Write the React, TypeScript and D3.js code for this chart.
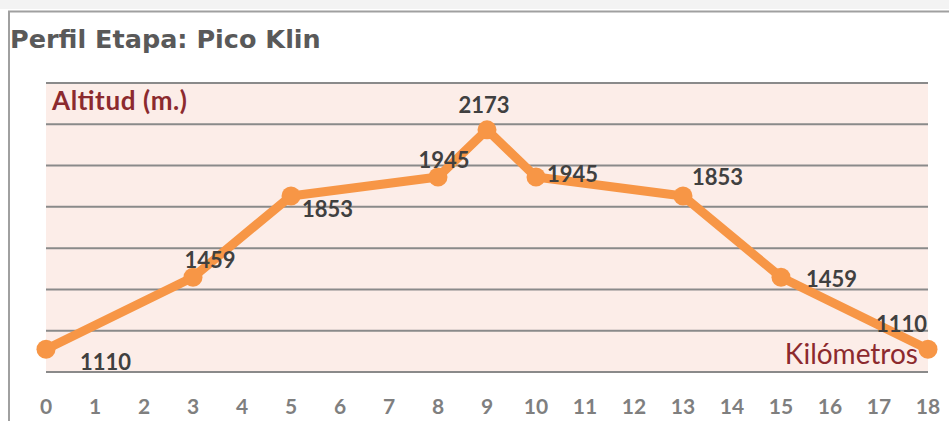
import { useEffect, useRef } from "react";
import * as d3 from "d3";

const kms = [0, 3, 5, 8, 9, 10, 13, 15, 18];
const alts = [1110, 1459, 1853, 1945, 2173, 1945, 1853, 1459, 1110];
// label placement per point: [dx, dy, anchor] relative to the marker
const labelPos: [number, number, string][] = [
  [34, 21, "start"],
  [17, -9, "middle"],
  [11, 21, "start"],
  [6, -9, "middle"],
  [-3, -17, "middle"],
  [11, 5, "start"],
  [9, -11, "start"],
  [25, 10, "start"],
  [-1, -17, "end"],
];
const xTicks = d3.range(0, 19);
const yGrid = d3.range(1000, 2401, 200);

export default function App() {
  const svgRef = useRef<SVGSVGElement | null>(null);

  useEffect(() => {
    const W = 949, H = 421;
    const margin = { left: 46, right: 21, top: 83, bottom: 49 };
    const svg = d3.select(svgRef.current).attr("width", W).attr("height", H);
    svg.selectAll("*").remove();

    // frame
    svg.append("rect").attr("x", 0).attr("y", 0).attr("width", W).attr("height", 9).attr("fill", "#f3f3f3");
    svg.append("line").attr("x1", 8).attr("x2", W).attr("y1", 11.5).attr("y2", 11.5).attr("stroke", "#a0a0a0").attr("stroke-width", 2);
    svg.append("line").attr("x1", 9).attr("x2", 9).attr("y1", 11).attr("y2", H).attr("stroke", "#a0a0a0").attr("stroke-width", 2);

    svg.append("text")
      .attr("x", 10).attr("y", 48)
      .attr("fill", "#595959")
      .style("font-family", "DejaVu Sans, Verdana, sans-serif")
      .style("font-weight", "bold")
      .style("font-size", "25.5px")
      .text("Perfil Etapa: Pico Klin");

    const x = d3.scaleLinear().domain([0, 18]).range([margin.left, W - margin.right]);
    const y = d3.scaleLinear().domain([1000, 2400]).range([H - margin.bottom, margin.top]);

    svg.append("rect")
      .attr("x", x(0)).attr("y", y(2400))
      .attr("width", x(18) - x(0)).attr("height", y(1000) - y(2400))
      .attr("fill", "#fcede8");

    svg.append("g").selectAll("line").data(yGrid).join("line")
      .attr("x1", x(0)).attr("x2", x(18))
      .attr("y1", d => y(d)).attr("y2", d => y(d))
      .attr("stroke", "#8a8a8a").attr("stroke-width", 2);

    const font = "Lato, Carlito, Calibri, sans-serif";

    svg.append("text")
      .attr("x", 52).attr("y", 110)
      .attr("fill", "#8c2a2e")
      .style("font-family", font).style("font-size", "26px").style("font-weight", "bold")
      .attr("textLength", 135)
      .text("Altitud (m.)");
    svg.append("text")
      .attr("x", 918).attr("y", 364).attr("text-anchor", "end")
      .attr("fill", "#8c2a2e")
      .style("font-family", font).style("font-size", "28px")
      .text("Kilómetros");

    svg.append("g").selectAll("text").data(xTicks).join("text")
      .attr("x", d => x(d)).attr("y", 414).attr("text-anchor", "middle")
      .attr("fill", "#7f7f7f")
      .style("font-family", font).style("font-size", "21px").style("font-weight", "bold")
      .text(d => String(d));

    const pts = kms.map((k, i) => ({ k, a: alts[i], i }));
    const line = d3.line<{ k: number; a: number }>().x(d => x(d.k)).y(d => y(d.a));
    svg.append("path").datum(pts).attr("d", line)
      .attr("fill", "none").attr("stroke", "#f79646").attr("stroke-width", 9)
      .attr("stroke-linejoin", "round");
    svg.append("g").selectAll("circle").data(pts).join("circle")
      .attr("cx", d => x(d.k)).attr("cy", d => y(d.a)).attr("r", 9.5)
      .attr("fill", "#f79646");

    svg.append("g").selectAll("text").data(pts).join("text")
      .attr("x", d => x(d.k) + labelPos[d.i][0])
      .attr("y", d => y(d.a) + labelPos[d.i][1])
      .attr("text-anchor", d => labelPos[d.i][2])
      .attr("fill", "#404040")
      .style("font-family", font).style("font-size", "22px").style("font-weight", "bold")
      .text(d => String(d.a));
  }, []);

  return <svg ref={svgRef} style={{ position: "absolute", left: 0, top: 0 }}></svg>;
}
